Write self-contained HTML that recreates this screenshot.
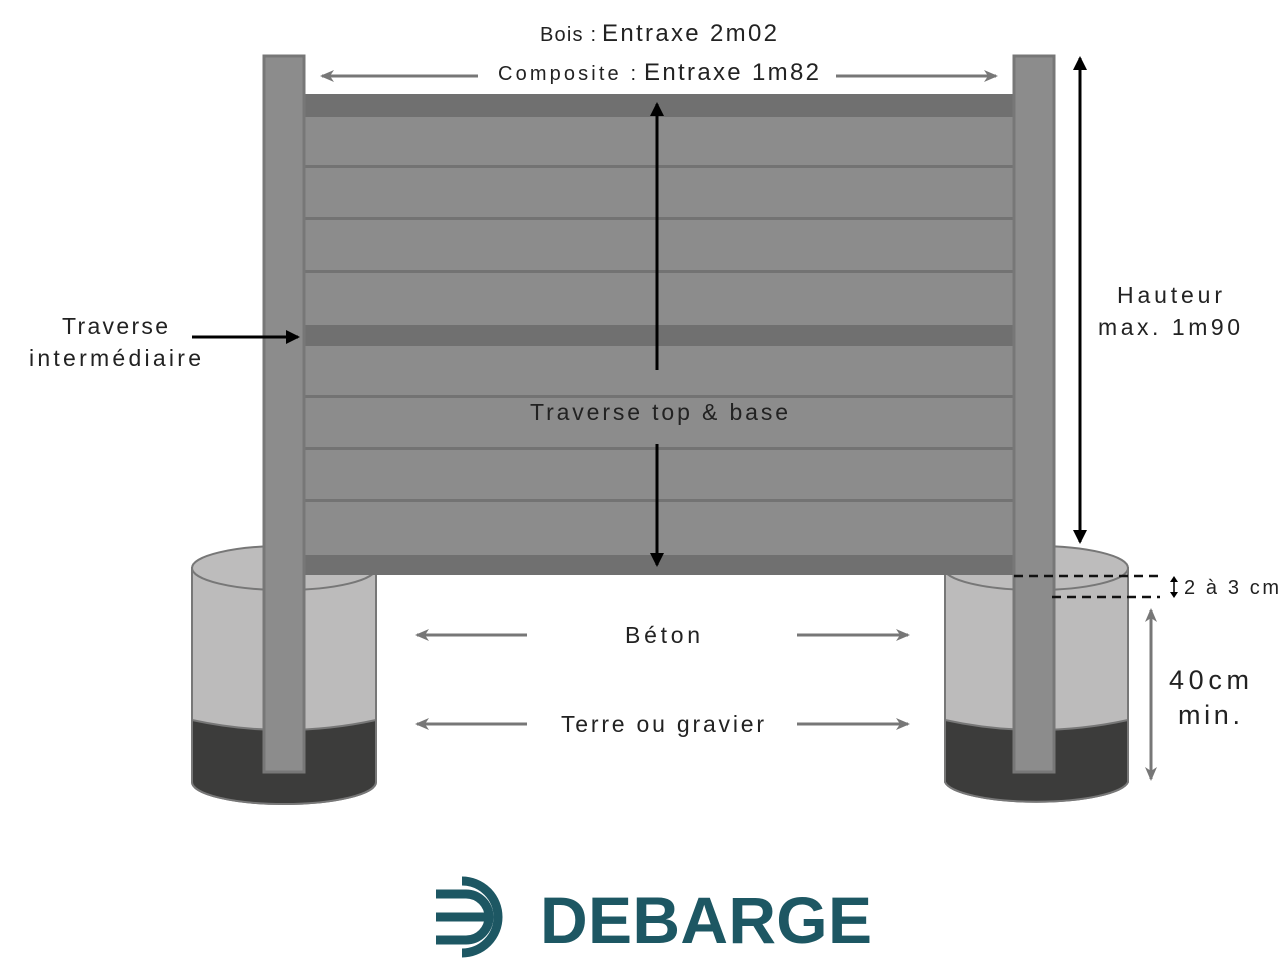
<!DOCTYPE html>
<html><head><meta charset="utf-8"><style>
html,body{margin:0;padding:0;background:#fff;width:1279px;height:979px;overflow:hidden}
svg text{font-family:"Liberation Sans","DejaVu Sans",sans-serif;fill:#222}
</style></head><body>
<svg width="1279" height="979" viewBox="0 0 1279 979" xmlns="http://www.w3.org/2000/svg">
<defs>
<marker id="ag" markerWidth="14" markerHeight="12" refX="12" refY="6" orient="auto" markerUnits="userSpaceOnUse"><path d="M0,0 L14,6 L0,12 L4,6 z" fill="#777"/></marker>
<marker id="ab2" markerWidth="14" markerHeight="14" refX="12" refY="7" orient="auto" markerUnits="userSpaceOnUse"><path d="M0,0 L14,7 L0,14 z" fill="#000"/></marker>
</defs>
<g stroke="#777" stroke-width="2">
<path d="M192,568 L192,782 A92,22 0 0 0 376,782 L376,568 Z" fill="#bcbbbb"/>
<path d="M192,720 Q284,740 376,720 L376,782 A92,22 0 0 1 192,782 Z" fill="#3c3c3b"/>
<ellipse cx="284" cy="568" rx="92" ry="22" fill="#bdbcbc"/>
<path d="M945,568 L945,782 A92,22 0 0 0 1128,782 L1128,568 Z" fill="#bcbbbb"/>
<path d="M945,720 Q1036,740 1128,720 L1128,782 A92,22 0 0 1 945,782 Z" fill="#3c3c3b"/>
<ellipse cx="1036" cy="568" rx="92" ry="22" fill="#bdbcbc"/>
</g>
<rect x="305" y="94" width="708" height="481" fill="#8c8c8c"/>
<rect x="305" y="94" width="708" height="23" fill="#707070"/>
<rect x="305" y="325" width="708" height="21" fill="#707070"/>
<rect x="305" y="555" width="708" height="20" fill="#707070"/>
<g fill="#737373">
<rect x="305" y="165" width="708" height="3"/><rect x="305" y="217" width="708" height="3"/><rect x="305" y="270" width="708" height="3"/>
<rect x="305" y="395" width="708" height="3"/><rect x="305" y="447" width="708" height="3"/><rect x="305" y="499" width="708" height="3"/>
</g>
<rect x="264" y="56" width="40" height="716" fill="#8c8c8c" stroke="#777" stroke-width="3"/>
<rect x="1014" y="56" width="40" height="716" fill="#8c8c8c" stroke="#777" stroke-width="3"/>
<line x1="1014" y1="576" x2="1160" y2="576" stroke="#111" stroke-width="2.5" stroke-dasharray="9,6"/>
<line x1="1052" y1="597" x2="1160" y2="597" stroke="#111" stroke-width="2.5" stroke-dasharray="9,6"/>
<g stroke="#777" stroke-width="3" fill="none">
<line x1="478" y1="76" x2="322" y2="76" marker-end="url(#ag)"/>
<line x1="836" y1="76" x2="996" y2="76" marker-end="url(#ag)"/>
<line x1="527" y1="635" x2="417" y2="635" marker-end="url(#ag)"/>
<line x1="797" y1="635" x2="908" y2="635" marker-end="url(#ag)"/>
<line x1="527" y1="724" x2="417" y2="724" marker-end="url(#ag)"/>
<line x1="797" y1="724" x2="908" y2="724" marker-end="url(#ag)"/>
<line x1="1151" y1="620" x2="1151" y2="610" marker-end="url(#ag)"/>
<line x1="1151" y1="610" x2="1151" y2="779" marker-end="url(#ag)"/>
</g>
<g stroke="#000" stroke-width="3" fill="none">
<line x1="657" y1="370" x2="657" y2="104" marker-end="url(#ab2)"/>
<line x1="657" y1="444" x2="657" y2="565" marker-end="url(#ab2)"/>
<line x1="1080" y1="300" x2="1080" y2="58" marker-end="url(#ab2)"/>
<line x1="1080" y1="300" x2="1080" y2="542" marker-end="url(#ab2)"/>
<line x1="192" y1="337" x2="298" y2="337" marker-end="url(#ab2)"/>
</g>
<g stroke="#000" stroke-width="1.5"><line x1="1174" y1="578" x2="1174" y2="596"/></g>
<path d="M1170,582 L1174,576 L1178,582 Z M1170,592 L1174,598 L1178,592 Z" fill="#000"/>
<text x="540" y="41" font-size="20" textLength="56">Bois :</text><text x="602" y="41" font-size="24" textLength="175">Entraxe 2m02</text>
<text x="498" y="80" font-size="20" textLength="138">Composite :</text><text x="644" y="80" font-size="24" textLength="175">Entraxe 1m82</text>
<text x="62" y="334" font-size="23" textLength="106">Traverse</text>
<text x="29" y="366" font-size="23" textLength="172">intermédiaire</text>
<text x="530" y="420" font-size="23" textLength="258">Traverse top &amp; base</text>
<text x="1117" y="303" font-size="23" textLength="105">Hauteur</text>
<text x="1098" y="335" font-size="23" textLength="142">max. 1m90</text>
<text x="625" y="643" font-size="23" textLength="75">Béton</text>
<text x="561" y="732" font-size="23" textLength="203">Terre ou gravier</text>
<text x="1184" y="594" font-size="20" textLength="95">2 à 3 cm</text>
<text x="1169" y="689" font-size="27" textLength="80">40cm</text>
<text x="1178" y="724" font-size="27" textLength="62">min.</text>
<g fill="none" stroke="#1d5763" stroke-width="9">
<path d="M462,881 A36,36 0 0 1 462,953"/>
<path d="M436,894 L466,894 A22,22 0 0 1 466,940 L436,940"/>
<line x1="436" y1="917" x2="486" y2="917"/>
</g>
<text x="540" y="943" font-size="66" font-weight="bold" textLength="332" style="fill:#1d5763">DEBARGE</text>
</svg>
</body></html>
